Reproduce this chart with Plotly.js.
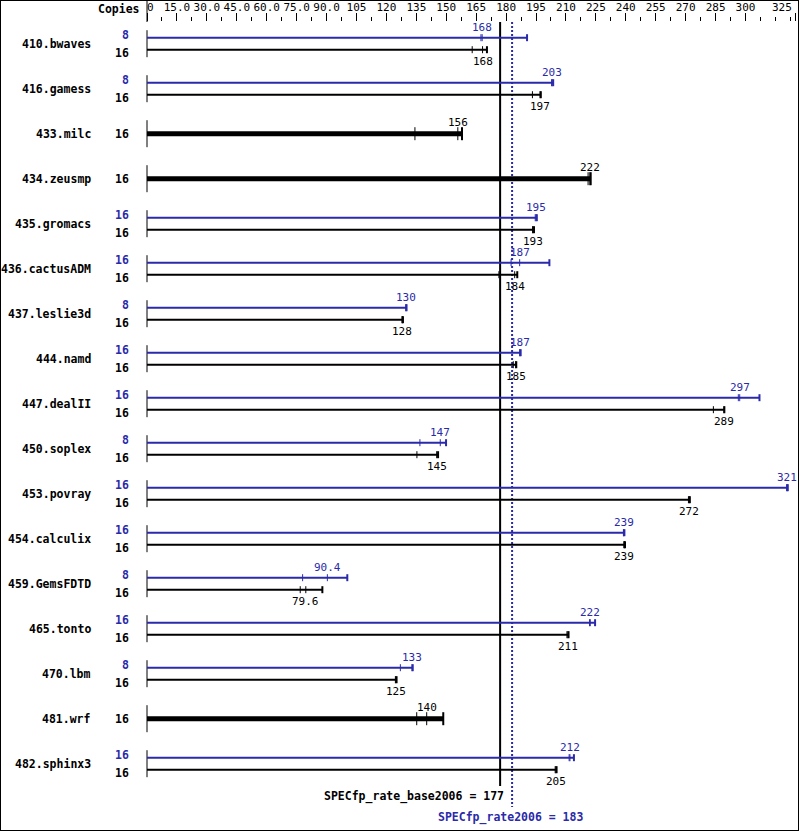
<!DOCTYPE html>
<html><head><meta charset="utf-8">
<script src="https://cdn.plot.ly/plotly-3.0.1.min.js"></script>
<style>html,body{margin:0;padding:0;background:#fff}#chart{width:799px;height:831px}</style>
</head><body><div id="chart"></div>
<script>
const benchmarks = ["410.bwaves","416.gamess","433.milc","434.zeusmp","435.gromacs","436.cactusADM","437.leslie3d","444.namd","447.dealII","450.soplex","453.povray","454.calculix","459.GemsFDTD","465.tonto","470.lbm","481.wrf","482.sphinx3"];
const baseCopies = [16,16,16,16,16,16,16,16,16,16,16,16,16,16,16,16,16];
const peakCopies = [8,8,null,null,16,16,8,16,16,8,16,16,8,16,8,null,16];
const baseLabels = ["168","197","156","222","193","184","128","185","289","145","272","239","79.6","211","125","140","205"];
const peakLabels = ["168","203",null,null,"195","187","130","187","297","147","321","239","90.4","222","133",null,"212"];
const baseRuns = [
  [163.0,168.2,170.4],[193.2,197.0,197.4],[134.3,155.8,157.9],[221.1,222.0,222.4],
  [193.3,193.4,194.0],[176.4,184.3,185.6],[127.8,128.0,128.3],[183.6,184.8,185.1],
  [283.9,289.2,289.4],[135.3,145.2,145.9],[271.4,271.8,272.1],[239.0,239.3,239.6],
  [76.8,79.6,87.9],[210.5,211.0,211.3],[124.5,124.8,125.1],[135.2,140.2,148.5],
  [204.6,205.0,205.3]];
const peakRuns = [
  [167.4,168.0,190.5],[202.8,203.1,203.6],null,null,
  [194.6,195.0,195.4],[182.5,186.8,201.7],[129.7,129.9,130.1],[186.8,187.0,187.3],
  [296.4,297.1,307.0],[136.8,147.0,149.9],[320.6,320.9,321.2],[238.8,239.0,239.3],
  [78.0,90.4,100.4],[221.8,222.2,224.6],[127.0,132.8,133.2],null,
  [211.6,212.0,214.0]];
const baseScore = 177;
const peakScore = 183;
const baseScoreLabel = "SPECfp_rate_base2006 = 177";
const peakScoreLabel = "SPECfp_rate2006 = 183";
const majorTicks = [0,15,30,45,60,75,90,105,120,135,150,165,180,195,210,225,240,255,270,285,300,325];
const majorTickText = ["\u00a00","15.0","30.0","45.0","60.0","75.0","90.0","105","120","135","150","165","180","195","210","225","240","255","270","285","300",""];
const lastTickLabel = "325";
const minorTicks = [7.5,22.5,37.5,52.5,67.5,82.5,97.5,112.5,127.5,142.5,157.5,172.5,187.5,202.5,217.5,232.5,247.5,262.5,277.5,292.5,307.5,315,322.5];

const BLUE = '#2a2aaa', BLACK = '#000000';
const MONO = 'DejaVu Sans Mono, Liberation Mono, monospace';
const W = 799, H = 831, TOP = 22;
const PXU = 1.995, X0PX = 147;
const ROW0 = 43.7, ROWH = 45;
const py = p => (p - ROW0) / ROWH;
const OFF = 6 / ROWH;

const traces = [];
function seg(xs, ys, color, width, dash) {
  traces.push({type:'scatter', mode:'lines', x:xs, y:ys, hoverinfo:'skip', showlegend:false,
    line:{color:color, width:width, dash:dash||'solid'}});
}
const bars = {peak:{x:[],y:[]}, base:{x:[],y:[]}, thick:{x:[],y:[]}};
const tk = {peakIn:{x:[],y:[]}, peakMax:{x:[],y:[]}, baseIn:{x:[],y:[]}, baseMax:{x:[],y:[]}};
const left = {x:[],y:[]};
const ann = [];
function addTicks(store, storeMax, runs, y, h) {
  const s = runs.slice().sort((a,b)=>a-b);
  s.forEach((v,k) => {
    const t = (k === s.length-1) ? storeMax : store;
    t.x.push(v, v, null); t.y.push(y-h, y+h, null);
  });
}
const lab = (x, y, text, color, size, bold, xanchor, xshift, yshift) => ann.push({
  x:x, y:y, xref:'x', yref:'y', text: bold ? '<b>'+text+'</b>' : text, showarrow:false,
  xanchor:xanchor, yanchor:'middle', xshift:xshift||0, yshift:yshift||0,
  font:{family:MONO, size:size, color:color}});

benchmarks.forEach((name, i) => {
  left.x.push(0,0,null); left.y.push(i-0.3, i+0.3, null);
  lab(0, i, name, BLACK, 11.5, true, 'right', -54, 0);
  const bRuns = baseRuns[i];
  const bMax = Math.max(...bRuns);
  const bMed = bRuns.slice().sort((a,b)=>a-b)[1];
  if (peakRuns[i]) {
    const yp = i - OFF, yb = i + OFF;
    const pRuns = peakRuns[i];
    const pMax = Math.max(...pRuns);
    const pMed = pRuns.slice().sort((a,b)=>a-b)[1];
    bars.peak.x.push(0, pMax, null); bars.peak.y.push(yp, yp, null);
    bars.base.x.push(0, bMax, null); bars.base.y.push(yb, yb, null);
    addTicks(tk.peakIn, tk.peakMax, pRuns, yp, 3.5/ROWH);
    addTicks(tk.baseIn, tk.baseMax, bRuns, yb, 3.5/ROWH);
    lab(0, i, String(peakCopies[i]), BLUE, 11.5, true, 'right', -16, 8.5);
    lab(0, i, String(baseCopies[i]), BLACK, 11.5, true, 'right', -16, -9);
    lab(pMed, yp, peakLabels[i], BLUE, 11, false, 'center', 0, 10);
    lab(bMed, yb, baseLabels[i], BLACK, 11, false, 'center', 0, -12);
  } else {
    bars.thick.x.push(0, bMax, null); bars.thick.y.push(i, i, null);
    addTicks(tk.baseIn, tk.baseMax, bRuns, i, 6.5/ROWH);
    lab(0, i, String(baseCopies[i]), BLACK, 11.5, true, 'right', -16, 0);
    lab(bMed, i, baseLabels[i], BLACK, 11, false, 'center', 0, 11);
  }
});

seg(left.x, left.y, BLACK, 1);
seg([baseScore, baseScore], [py(TOP), py(786)], BLACK, 2);
seg([peakScore, peakScore], [py(TOP), py(807)], BLUE, 2, '2px,2px');
seg(bars.thick.x, bars.thick.y, BLACK, 5);
seg(bars.base.x, bars.base.y, BLACK, 2);
seg(bars.peak.x, bars.peak.y, BLUE, 2);
seg(tk.baseIn.x, tk.baseIn.y, BLACK, 1);
seg(tk.baseMax.x, tk.baseMax.y, BLACK, 2);
seg(tk.peakIn.x, tk.peakIn.y, BLUE, 1);
seg(tk.peakMax.x, tk.peakMax.y, BLUE, 2);

lab(baseScore, py(796), baseScoreLabel, BLACK, 11.5, true, 'right', 6, 0);
lab(peakScore, py(817), peakScoreLabel, BLUE, 11.5, true, 'center', -1.5, 0);
ann.push({xref:'paper', yref:'paper', x:142/W, y:1 + (TOP-9)/(H-TOP), text:'<b>Copies</b>',
  showarrow:false, xanchor:'right', yanchor:'middle', font:{family:MONO, size:11.5, color:BLACK}});
ann.push({xref:'x', yref:'paper', x:majorTicks[majorTicks.length-1], y:1 + (TOP-8)/(H-TOP), text:lastTickLabel,
  showarrow:false, xanchor:'right', yanchor:'middle', xshift:-1, font:{family:MONO, size:11, color:BLACK}});

const layout = {
  width:W, height:H, margin:{l:0, r:0, t:TOP, b:0, pad:0},
  paper_bgcolor:'#fff', plot_bgcolor:'#fff', showlegend:false,
  xaxis:{side:'top', range:[-X0PX/PXU, (W-X0PX)/PXU], tickmode:'array', tickvals:majorTicks, ticktext:majorTickText,
    ticks:'outside', ticklen:8, tickwidth:1, tickcolor:BLACK, tickangle:0, ticklabeloverflow:'allow',
    ticklabelstandoff:-2,
    tickfont:{family:MONO, size:11, color:BLACK},
    minor:{tickmode:'array', tickvals:minorTicks, ticks:'outside', ticklen:4, tickwidth:1, tickcolor:BLACK, showgrid:false},
    showline:false, showgrid:false, zeroline:false, fixedrange:true},
  yaxis:{visible:false, range:[py(H), py(TOP)], fixedrange:true, showgrid:false, zeroline:false},
  annotations: ann,
  shapes:[
    {type:'line', xref:'x', yref:'paper', x0:0, x1:0, y0:1, y1:1 + TOP/(H-TOP), line:{color:BLACK, width:1}},
    {type:'rect', xref:'paper', yref:'paper', x0:0, x1:1, y0:0, y1:1 + TOP/(H-TOP), line:{color:BLACK, width:2}, layer:'above'}
  ]
};
Plotly.newPlot('chart', traces, layout, {displayModeBar:false, staticPlot:true});
</script></body></html>
